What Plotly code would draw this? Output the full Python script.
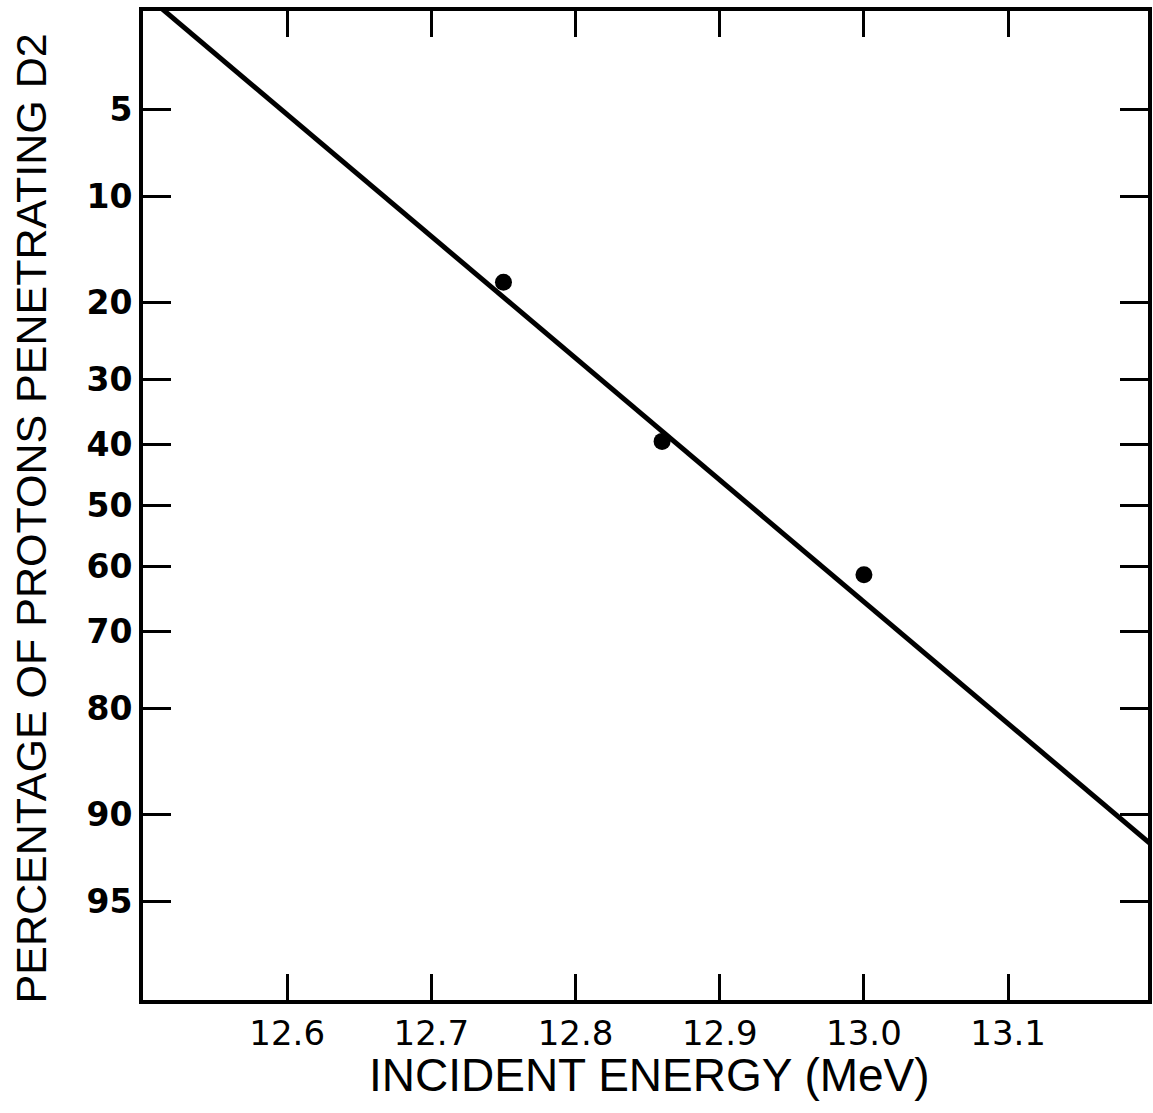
import math
import plotly.graph_objects as go

# Measured transmission: incident proton energy (MeV) vs percent penetrating D2
energy = [12.75, 12.86, 13.00]
percent = [17.7, 39.5, 61.3]

# Fitted straight line on the probability scale (end points)
fit_energy = [12.5, 13.2]
fit_percent = [1.66, 92.1]

# Probability-axis tick labels (percent)
y_ticks = [5, 10, 20, 30, 40, 50, 60, 70, 80, 90, 95]
x_ticks = [12.6, 12.7, 12.8, 12.9, 13.0, 13.1]
x_tick_text = ["12.6", "12.7", "12.8", "12.9", "13.0", "13.1"]
y_limits = [2, 98]
x_limits = [12.5, 13.197]

x_title = "INCIDENT ENERGY (MeV)"
y_title = "PERCENTAGE OF PROTONS PENETRATING D2"


def probit(pct):
    """Inverse standard normal CDF of pct/100, by bisection on erf."""
    p = pct / 100.0
    lo, hi = -8.0, 8.0
    for _ in range(100):
        mid = 0.5 * (lo + hi)
        if 0.5 * (1 + math.erf(mid / math.sqrt(2))) < p:
            lo = mid
        else:
            hi = mid
    return 0.5 * (lo + hi)


title_font = "Liberation Sans"
tick_font = "DejaVu Sans"

fig = go.Figure()
fig.add_trace(go.Scatter(
    x=fit_energy, y=[probit(v) for v in fit_percent],
    mode="lines", line=dict(color="black", width=5),
    showlegend=False, hoverinfo="skip",
))
fig.add_trace(go.Scatter(
    x=energy, y=[probit(v) for v in percent],
    mode="markers", marker=dict(color="black", size=17),
    showlegend=False,
))

fig.update_xaxes(
    range=x_limits,
    tickvals=x_ticks, ticktext=x_tick_text,
    ticks="inside", ticklen=26, tickwidth=3, tickcolor="black",
    showline=True, linewidth=4, linecolor="black", mirror="allticks",
    showgrid=False, zeroline=False,
    tickfont=dict(family=tick_font, size=34, color="black"),
)
fig.update_yaxes(
    range=[probit(y_limits[1]), probit(y_limits[0])],
    tickvals=[probit(v) for v in y_ticks], ticktext=[str(v) for v in y_ticks],
    ticks="inside", ticklen=28, tickwidth=3, tickcolor="black",
    showline=True, linewidth=4, linecolor="black", mirror="allticks",
    showgrid=False, zeroline=False,
    tickfont=dict(family=tick_font, size=33, color="black", weight="bold"),
)

# Axis titles placed as paper-anchored annotations
fig.add_annotation(
    text=x_title, xref="paper", yref="paper", x=0.5035, y=-0.0758,
    xanchor="center", yanchor="middle", showarrow=False,
    font=dict(family=title_font, size=46, color="black"),
)
fig.add_annotation(
    text=y_title, xref="paper", yref="paper", x=-0.111, y=0.4874,
    xanchor="center", yanchor="middle", textangle=-90, showarrow=False,
    font=dict(family=title_font, size=43, color="black"),
)

fig.update_layout(
    width=1153, height=1113,
    margin=dict(l=143, r=1, t=11, b=113),
    paper_bgcolor="white", plot_bgcolor="white",
)

fig.write_html("out.html")
